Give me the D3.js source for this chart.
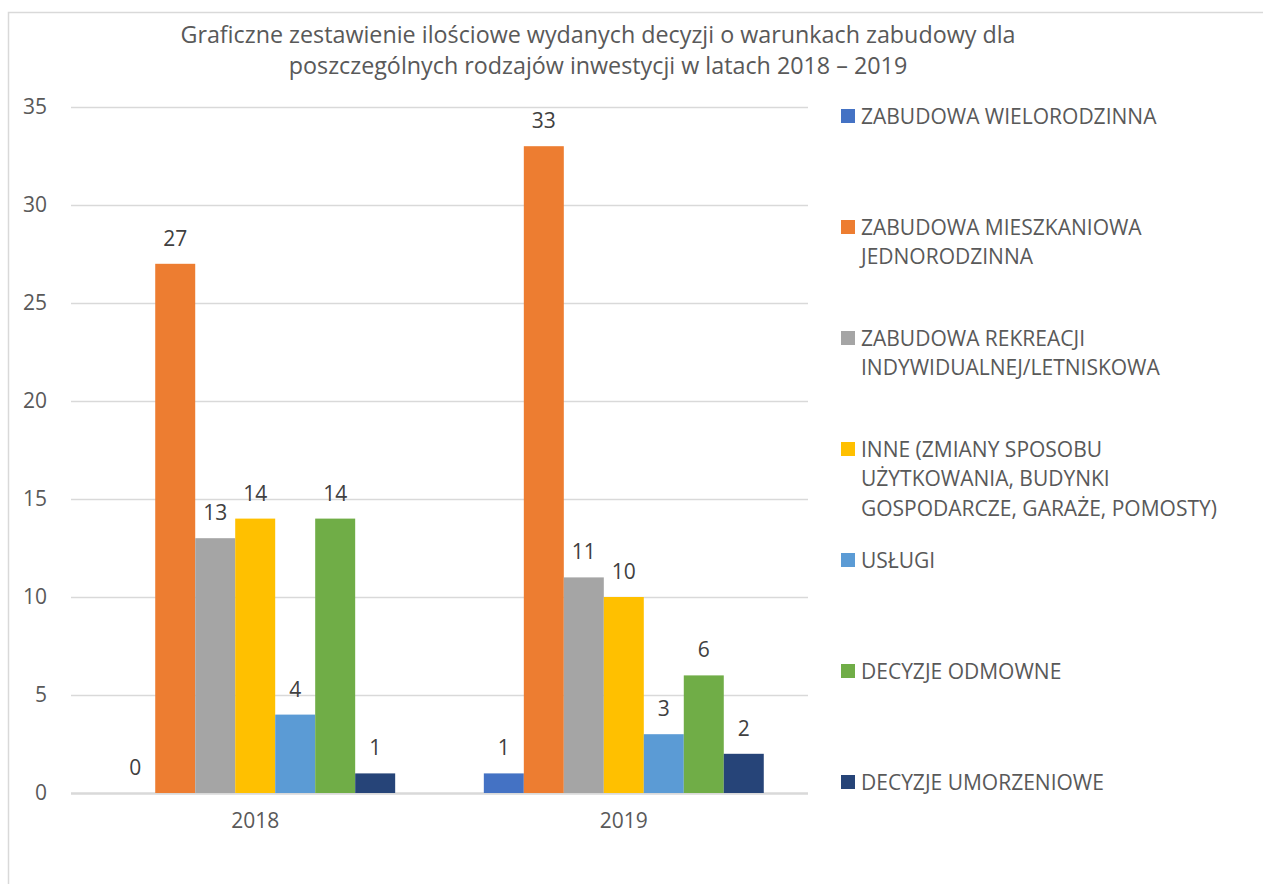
<!DOCTYPE html>
<html><head><meta charset="utf-8">
<script src="https://cdn.jsdelivr.net/npm/d3@7"></script>
<style>body{margin:0;background:#fff}svg{display:block}text{font-family:"Open Sans",Calibri,sans-serif}</style>
</head><body>
<svg id="c" width="1263" height="884"></svg>
<script>
const categories = ["2018", "2019"];
const seriesNames = [
  "ZABUDOWA WIELORODZINNA",
  "ZABUDOWA MIESZKANIOWA JEDNORODZINNA",
  "ZABUDOWA REKREACJI INDYWIDUALNEJ/LETNISKOWA",
  "INNE (ZMIANY SPOSOBU UŻYTKOWANIA, BUDYNKI GOSPODARCZE, GARAŻE, POMOSTY)",
  "USŁUGI",
  "DECYZJE ODMOWNE",
  "DECYZJE UMORZENIOWE"
];
const legendLines = [
  ["ZABUDOWA WIELORODZINNA"],
  ["ZABUDOWA MIESZKANIOWA", "JEDNORODZINNA"],
  ["ZABUDOWA REKREACJI", "INDYWIDUALNEJ/LETNISKOWA"],
  ["INNE (ZMIANY SPOSOBU", "UŻYTKOWANIA, BUDYNKI", "GOSPODARCZE, GARAŻE, POMOSTY)"],
  ["USŁUGI"],
  ["DECYZJE ODMOWNE"],
  ["DECYZJE UMORZENIOWE"]
];
const values2018 = [0, 27, 13, 14, 4, 14, 1];
const values2019 = [1, 33, 11, 10, 3, 6, 2];
const colors = ["#4472C4", "#ED7D31", "#A5A5A5", "#FFC000", "#5B9BD5", "#70AD47", "#264478"];
const yTicks = [0, 5, 10, 15, 20, 25, 30, 35];
const titleLines = [
  "Graficzne zestawienie ilościowe wydanych decyzji o warunkach zabudowy dla",
  "poszczególnych rodzajów inwestycji w latach 2018 – 2019"
];

const svg = d3.select("#c");
const values = [values2018, values2019];

// border
svg.append("rect").attr("x", 8.5).attr("y", 12.5).attr("width", 1400).attr("height", 1000)
  .attr("fill", "none").attr("stroke", "#D9D9D9").attr("stroke-width", 1.5);

const pLeft = 71, pRight = 808, pTop = 107, pBottom = 793;
const y = d3.scaleLinear().domain([0, 35]).range([pBottom, pTop]);
const x0 = d3.scaleBand().domain(categories).range([pLeft, pRight]).paddingInner(0.2405).paddingOuter(0.12);
const x1 = d3.scaleBand().domain(d3.range(seriesNames.length)).range([0, x0.bandwidth()]);

// title
svg.append("text").attr("x", 598).attr("y", 43).attr("text-anchor", "middle")
  .attr("fill", "#595959").attr("font-size", 23.3)
  .selectAll("tspan").data(titleLines).join("tspan")
  .attr("x", 598).attr("dy", (d, i) => i ? 31 : 0).text(d => d);

// gridlines
const yAxis = d3.axisLeft(y).tickValues(yTicks).tickSize(-(pRight - pLeft)).tickPadding(24);
const ga = svg.append("g").attr("transform", `translate(${pLeft},0)`).call(yAxis);
ga.select(".domain").remove();
ga.selectAll(".tick line").attr("stroke", "#D9D9D9").attr("stroke-width", 1.3);
ga.selectAll(".tick text").attr("fill", "#595959").attr("font-size", 21).attr("font-family", "'Open Sans',sans-serif");
ga.selectAll(".tick").filter(d => d === 0).select("line").attr("stroke-width", 2.5);

// x axis labels
const xa = svg.append("g").attr("transform", `translate(0,${pBottom})`)
  .call(d3.axisBottom(x0).tickSize(0).tickPadding(20));
xa.select(".domain").remove();
xa.selectAll(".tick text").attr("fill", "#595959").attr("font-size", 21).attr("font-family", "'Open Sans',sans-serif");

// bars
const groups = svg.append("g").selectAll("g").data(categories).join("g")
  .attr("transform", d => `translate(${x0(d)},0)`);
groups.each(function(cat, ci) {
  const g = d3.select(this);
  const data = values[ci].map((v, i) => ({v, i}));
  g.selectAll("rect").data(data).join("rect")
    .attr("x", d => x1(d.i)).attr("width", x1.bandwidth())
    .attr("y", d => y(d.v)).attr("height", d => pBottom - y(d.v))
    .attr("fill", d => colors[d.i]);
  g.selectAll("text").data(data).join("text")
    .attr("x", d => x1(d.i) + x1.bandwidth() / 2).attr("y", d => y(d.v) - 18)
    .attr("text-anchor", "middle").attr("fill", "#404040").attr("font-size", 21)
    .text(d => d.v);
});

// legend
const lg = svg.append("g").selectAll("g").data(legendLines).join("g")
  .attr("transform", (d, i) => `translate(841,${116 + i * 111})`);
lg.append("rect").attr("x", 0).attr("y", -7).attr("width", 14).attr("height", 14)
  .attr("fill", (d, i) => colors[i]);
lg.append("text").attr("fill", "#595959").attr("font-size", 21)
  .selectAll("tspan").data(d => d).join("tspan")
  .attr("x", 20).attr("y", (d, i) => i * 29.5 + 7.5).text(d => d);
</script>
</body></html>
